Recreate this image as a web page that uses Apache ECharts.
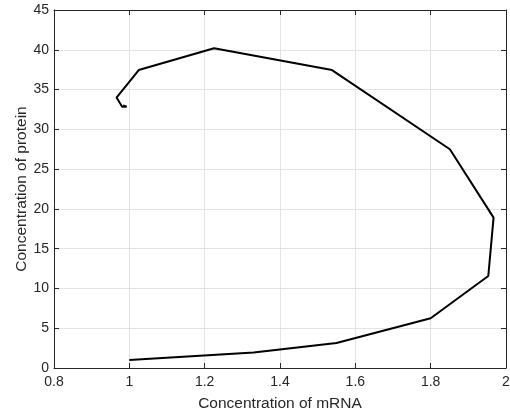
<!DOCTYPE html>
<html>
<head>
<meta charset="utf-8">
<script src="https://cdn.jsdelivr.net/npm/echarts@6/dist/echarts.min.js"></script>
<style>
	html, body { margin: 0; padding: 0; background: #fff; }
	#chart { width: 510px; height: 414px; }
</style>
</head>
<body>
<div id="chart"></div>
<script>
	// trajectory
	var mrna = [1.0, 1.33, 1.55, 1.80, 1.953, 1.967, 1.851, 1.538, 1.225, 1.025, 0.966, 0.981, 0.993, 0.99, 0.984, 0.988];
	var protein = [1.0, 1.95, 3.15, 6.25, 11.56, 18.9, 27.5, 37.45, 40.2, 37.45, 34.0, 32.85, 32.85, 33.1, 33.0, 32.9];
	var xTicks = { min: 0.8, max: 2, step: 0.2 };
	var yTicks = { min: 0, max: 45, step: 5 };

	var textColor = '#262626';
	var font = 'Liberation Sans';

	var points = [];
	for (var i = 0; i < mrna.length; i++) {
		points.push([mrna[i], protein[i]]);
	}

	var chart = echarts.init(document.getElementById('chart'), null, { renderer: 'canvas' });

	function boxAxis(extra) {
		return Object.assign({
			type: 'value',
			axisLine: { show: true, onZero: false, lineStyle: { color: textColor, width: 1 } },
			axisTick: { show: true, inside: true, length: 5, lineStyle: { color: textColor } },
			axisLabel: { show: false },
			splitLine: { show: false }
		}, extra);
	}

	chart.setOption({
		animation: false,
		grid: { left: 54, right: 4, top: 10, bottom: 46, outerBoundsMode: 'none' },
		xAxis: [
			boxAxis({
				min: xTicks.min, max: xTicks.max, interval: xTicks.step,
				position: 'bottom',
				name: 'Concentration of mRNA',
				nameLocation: 'middle',
				nameGap: 28,
				nameMoveOverlap: false,
				nameTextStyle: { color: textColor, fontSize: 15.5, fontFamily: font },
				axisLabel: { show: true, color: textColor, fontSize: 14, fontFamily: font, margin: 7 },
				splitLine: { show: true, lineStyle: { color: '#e3e3e3', width: 1 } }
			}),
			boxAxis({ min: xTicks.min, max: xTicks.max, interval: xTicks.step, position: 'top' })
		],
		yAxis: [
			boxAxis({
				min: yTicks.min, max: yTicks.max, interval: yTicks.step,
				position: 'left',
				name: 'Concentration of protein',
				nameLocation: 'middle',
				nameGap: 24,
				nameMoveOverlap: false,
				nameTextStyle: { color: textColor, fontSize: 15.5, fontFamily: font },
				axisLabel: { show: true, color: textColor, fontSize: 14, fontFamily: font, margin: 5 },
				splitLine: { show: true, lineStyle: { color: '#e3e3e3', width: 1 } }
			}),
			boxAxis({ min: yTicks.min, max: yTicks.max, interval: yTicks.step, position: 'right' })
		],
		series: [{
			type: 'line',
			data: points,
			showSymbol: false,
			smooth: false,
			lineStyle: { color: '#000', width: 2 },
			z: 5
		}]
	});
</script>
</body>
</html>
